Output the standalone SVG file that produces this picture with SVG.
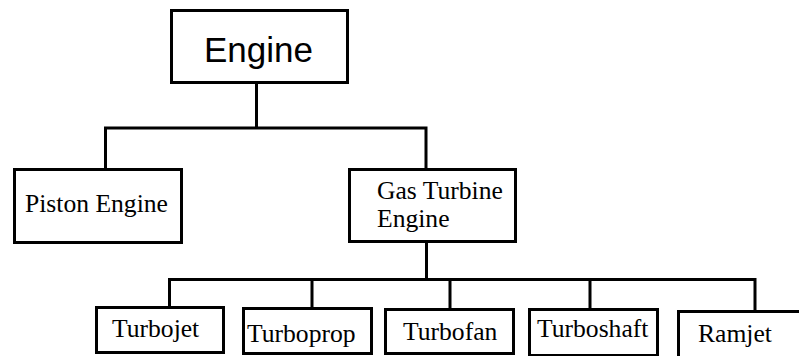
<svg xmlns="http://www.w3.org/2000/svg" width="799" height="356" viewBox="0 0 799 356">
<style>
.box{fill:#fff;stroke:#000;stroke-width:3}
.t{font-family:"Liberation Serif","Times New Roman",serif;font-size:25.6px;fill:#000}
.s{font-family:"Liberation Sans",Arial,sans-serif;font-size:35px;fill:#000}
#connectors path{fill:none;stroke:#000;stroke-width:3}
</style>
<rect width="799" height="356" fill="#fff"/>
<g id="connectors">
<path d="M256.5 84V128M104 128H427.5M105.5 128V168M426 128V168"/>
<path d="M426.5 243V279.5M168 279.5H756.5M169.5 279.5V307M312 279.5V308M450 279.5V309M590 279.5V309M755 279.5V311"/>
</g>
<g id="engine">
<rect class="box" x="171.5" y="10.5" width="176" height="72"/>
<text class="s" x="204" y="62">Engine</text>
</g>
<g id="piston">
<rect class="box" x="14.5" y="169.5" width="167" height="73"/>
<text class="t" x="25" y="212">Piston Engine</text>
</g>
<g id="gasturbine">
<rect class="box" x="349.5" y="169.5" width="166" height="72"/>
<text class="t" x="377" y="199">Gas Turbine</text>
<text class="t" x="377" y="227">Engine</text>
</g>
<g id="turbojet">
<rect class="box" x="96.5" y="307.5" width="127" height="45"/>
<text class="t" x="112" y="337">Turbojet</text>
</g>
<g id="turboprop">
<rect class="box" x="243.5" y="308.5" width="128" height="45"/>
<text class="t" x="247" y="342">Turboprop</text>
</g>
<g id="turbofan">
<rect class="box" x="385.5" y="309.5" width="128" height="44"/>
<text class="t" x="403" y="340">Turbofan</text>
</g>
<g id="turboshaft">
<rect class="box" x="529.5" y="309.5" width="128" height="46"/>
<text class="t" x="537" y="337">Turboshaft</text>
</g>
<g id="ramjet">
<rect class="box" x="678.5" y="311.5" width="130" height="50"/>
<text class="t" x="698" y="342">Ramjet</text>
</g>
</svg>
